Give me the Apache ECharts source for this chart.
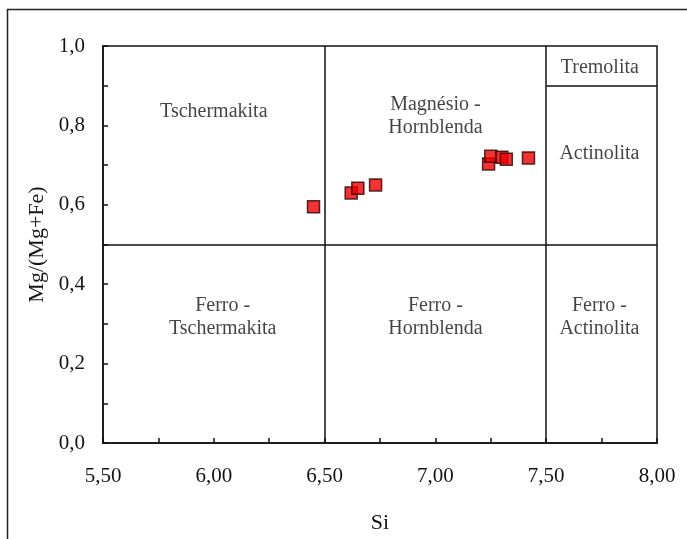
<!DOCTYPE html>
<html>
<head>
<meta charset="utf-8">
<script src="https://cdn.jsdelivr.net/npm/echarts@6/dist/echarts.min.js"></script>
<style>
  html, body { margin: 0; padding: 0; background: #fff; }
  #chart { width: 687px; height: 539px; }
</style>
</head>
<body>
<div id="chart"></div>
<script>
// Amphibole classification: Si (apfu) vs Mg/(Mg+Fe)
const siValues = [6.45, 6.62, 6.65, 6.73, 7.24, 7.25, 7.30, 7.32, 7.42];
const mgNumbers = [0.595, 0.630, 0.642, 0.650, 0.703, 0.722, 0.720, 0.715, 0.718];

const xTicks = [5.5, 6.0, 6.5, 7.0, 7.5, 8.0];
const yTicks = [0.0, 0.2, 0.4, 0.6, 0.8, 1.0];

// Field boundaries of the diagram
const boundarySi = [6.5, 7.5];
const boundaryMg = 0.5;
const tremolitaMg = 0.9;

const serif = '"Liberation Serif", "Times New Roman", serif';
const ink = '#141414';

const points = siValues.map((s, i) => [s, mgNumbers[i]]);

const fieldLabel = (text, x, y) => ({
  value: [x, y],
  label: { formatter: text }
});

const chart = echarts.init(document.getElementById('chart'));
chart.setOption({
  animation: false,
  backgroundColor: '#fff',
  graphic: [{
    type: 'rect',
    shape: { x: 7.5, y: 9.5, width: 700, height: 560 },
    style: { fill: 'none', stroke: '#222', lineWidth: 1.5 },
    silent: true
  }],
  grid: {
    left: 103, top: 46, right: 30, bottom: 95,
    show: true, borderColor: '#111', borderWidth: 1.5, backgroundColor: 'transparent'
  },
  xAxis: {
    type: 'value',
    min: xTicks[0], max: xTicks[xTicks.length - 1], interval: 0.5,
    name: 'Si', nameLocation: 'middle', nameGap: 69,
    nameTextStyle: { fontFamily: serif, fontSize: 22, color: ink },
    axisLine: { lineStyle: { color: '#111', width: 1.5 } },
    axisTick: { inside: true, length: 5, lineStyle: { color: '#111', width: 1.5 } },
    minorTick: { show: true, splitNumber: 2, length: 5, lineStyle: { color: '#111', width: 1.5 } },
    splitLine: { show: false },
    axisLabel: {
      margin: 23, fontFamily: serif, fontSize: 21, color: ink,
      formatter: v => v.toFixed(2).replace('.', ',')
    }
  },
  yAxis: {
    type: 'value',
    min: yTicks[0], max: yTicks[yTicks.length - 1], interval: 0.2,
    name: 'Mg/(Mg+Fe)', nameLocation: 'middle', nameGap: 50,
    nameTextStyle: { fontFamily: serif, fontSize: 22, color: ink },
    axisLine: { lineStyle: { color: '#111', width: 1.5 } },
    axisTick: { inside: true, length: 5, lineStyle: { color: '#111', width: 1.5 } },
    minorTick: { show: true, splitNumber: 2, length: 5, lineStyle: { color: '#111', width: 1.5 } },
    splitLine: { show: false },
    axisLabel: {
      margin: 18, fontFamily: serif, fontSize: 21, color: ink,
      formatter: v => v.toFixed(1).replace('.', ',')
    }
  },
  series: [
    {
      // field boundaries
      type: 'line',
      silent: true,
      symbol: 'none',
      lineStyle: { color: '#111', width: 1.5 },
      data: [],
      markLine: {
        silent: true,
        symbol: 'none',
        label: { show: false },
        lineStyle: { color: '#111', width: 1.5, type: 'solid' },
        data: [
          { xAxis: boundarySi[0] },
          { xAxis: boundarySi[1] },
          { yAxis: boundaryMg },
          [{ coord: [boundarySi[1], tremolitaMg] }, { coord: [xTicks[xTicks.length - 1], tremolitaMg] }]
        ]
      }
    },
    {
      // field names
      type: 'scatter',
      silent: true,
      symbolSize: 0,
      label: {
        show: true, position: 'inside',
        fontFamily: serif, fontSize: 20, color: ink, lineHeight: 23, align: 'center'
      },
      data: [
        fieldLabel('Tschermakita', 6.0, 0.835),
        fieldLabel('Magnésio -\nHornblenda', 7.0, 0.823),
        fieldLabel('Tremolita', 7.742, 0.945),
        fieldLabel('Actinolita', 7.74, 0.729),
        fieldLabel('Ferro -\nTschermakita', 6.04, 0.318),
        fieldLabel('Ferro -\nHornblenda', 7.0, 0.318),
        fieldLabel('Ferro -\nActinolita', 7.74, 0.318)
      ]
    },
    {
      type: 'scatter',
      symbol: 'rect',
      symbolSize: 12,
      itemStyle: { color: '#ee0000', borderColor: '#300000', borderWidth: 1.5 },
      data: points,
      z: 5
    }
  ]
});
</script>
</body>
</html>
